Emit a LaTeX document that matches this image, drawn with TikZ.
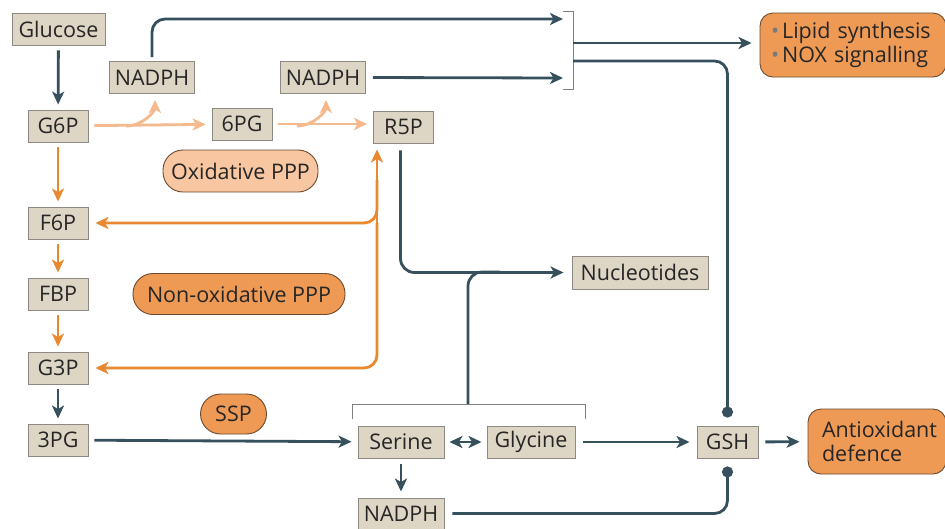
\documentclass[tikz,border=0pt]{standalone}
\usepackage{fontspec}
\setmainfont{Open Sans}
\usetikzlibrary{arrows.meta}
\definecolor{dk}{HTML}{37505E}
\definecolor{orn}{HTML}{E8892F}
\definecolor{lor}{HTML}{F4B98C}
\definecolor{boxfill}{HTML}{DDD6C4}
\definecolor{boxline}{HTML}{8C8A82}
\definecolor{pillfill}{HTML}{EE9A55}
\definecolor{pilllight}{HTML}{F8C6A0}
\definecolor{pillline}{HTML}{6B4A30}
\definecolor{txt}{HTML}{262626}
\definecolor{brk}{HTML}{808080}
\definecolor{bul}{HTML}{7A7A7A}
\tikzset{
  box/.style={draw=boxline, fill=boxfill, line width=0.9pt, minimum height=32pt, inner sep=0pt, text=txt},
  pill/.style={draw=pillline, fill=pillfill, line width=0.9pt, rounded corners=20pt, inner sep=0pt, text=txt},
  rbox/.style={draw=pillline, fill=pillfill, line width=0.9pt, rounded corners=13pt, inner sep=0pt, text=txt, align=left},
  tip/.style={-{Stealth[length=13pt,width=12pt,inset=3.5pt]}},
  dline/.style={draw=dk, line width=2.8pt},
  oline/.style={draw=orn, line width=2.8pt},
  lline/.style={draw=lor, line width=2.8pt},
  bline/.style={draw=brk, line width=1pt},
  dotend/.style={-{Circle[length=11pt,width=11pt]}},
}
\begin{document}
\begin{tikzpicture}[x=1pt,y=-1pt,font=\fontsize{21.5}{24}\selectfont]
\useasboundingbox (0,0) rectangle (945,528);
\fill[white] (0,0) rectangle (945,528);
% nodes
\node[box, minimum width=93pt] (glu) at (58.5,29) {Glucose};
\node[box, minimum width=60pt] (g6p) at (58,126) {G6P};
\node[box, minimum width=85pt] (nad1) at (152,77.5) {NADPH};
\node[box, minimum width=60pt] (pg6) at (242,124) {6PG};
\node[box, minimum width=85pt] (nad2) at (323,77.5) {NADPH};
\node[box, minimum width=60pt] (r5p) at (403.5,127) {R5P};
\node[pill, fill=pilllight, minimum width=155pt, minimum height=42pt] (oxp) at (240.5,171) {Oxidative PPP};
\node[box, minimum width=60pt] (f6p) at (58,223) {F6P};
\node[box, minimum width=60pt] (fbp) at (58,294) {FBP};
\node[pill, minimum width=212pt, minimum height=41pt] (nox) at (239,294) {Non-oxidative PPP};
\node[box, minimum width=60pt] (g3p) at (58,368) {G3P};
\node[pill, minimum width=66pt, minimum height=40pt] (ssp) at (233.5,414) {SSP};
\node[box, minimum width=60pt] (pg3) at (58,440) {3PG};
\node[box, minimum width=86pt] (ser) at (401,442) {Serine};
\node[box, minimum width=88pt] (gly) at (531,442) {Glycine};
\node[box, minimum width=61pt] (gsh) at (727.5,442) {GSH};
\node[box, minimum width=86pt, minimum height=31pt] (nad3) at (401,513.5) {NADPH};
\node[box, minimum width=136pt, minimum height=33pt] (nuc) at (640,272.5) {Nucleotides};
\node[rbox, minimum width=186pt, minimum height=64pt, text width=164pt] (lip) at (853,45)
  {{\color{bul}\textbullet}\kern3pt Lipid synthesis\\{\color{bul}\textbullet}\kern3pt NOX signalling};
\node[rbox, minimum width=138pt, minimum height=65pt, text width=110pt] (aox) at (877,441.5)
  {Antioxidant\\defence};
% coordinates
\coordinate (b1) at (563,19);
\coordinate (b2) at (563,78);
\coordinate (bo1) at (573,43);
\coordinate (bo2) at (573,61);
\coordinate (oj) at (377,223);
\coordinate (otop) at (377,180);
\coordinate (sgb) at (468,404);
\coordinate (br1) at (126,126);
\coordinate (br2) at (297,126);
% brackets
\draw[bline] (563,11) -- (573,11) -- (573,89) -- (563,89);
\draw[bline] (352,419) -- (352,404) -- (585,404) -- (585,419);
% dark connectors
\draw[dline, tip, shorten <=5pt, shorten >=5pt] (glu) -- (g6p);
\draw[dline, tip, rounded corners=13pt, shorten <=4pt] (nad1.north) |- (b1);
\draw[dline, tip, shorten <=7pt] (nad2.east) -- (b2);
\draw[dline, tip, shorten >=8pt] (bo1) -- (lip.west |- bo1);
\draw[dline, dotend, rounded corners=13pt, shorten >=8pt] (bo2) -| (gsh.north);
\draw[dline, tip, rounded corners=14pt, shorten <=7pt, shorten >=8pt] ([xshift=-3pt]r5p.south) |- (nuc.west);
\draw[dline, rounded corners=14pt] (sgb) -- (468,272) -- (500,272);
\draw[dline, tip, shorten <=5pt, shorten >=5pt] (g3p) -- (pg3);
\draw[dline, tip, shorten <=6pt, shorten >=6pt] (pg3) -- (ser);
\draw[dline, {Stealth[length=13pt,width=12pt,inset=3.5pt]}-{Stealth[length=13pt,width=12pt,inset=3.5pt]}, shorten <=5pt, shorten >=5pt] (ser) -- (gly);
\draw[dline, tip, shorten <=8pt, shorten >=7pt] (gly) -- (gsh);
\draw[dline, tip, shorten <=7pt, shorten >=8pt] (gsh) -- (aox);
\draw[dline, tip, shorten <=6pt, shorten >=6pt] (ser) -- (nad3);
\draw[dline, dotend, rounded corners=13pt, shorten <=8pt, shorten >=8pt] (nad3.east) -| (gsh.south);
% light orange (oxidative)
\draw[lline, tip, shorten <=6pt, shorten >=6pt] (g6p) -- (pg6);
\draw[lline, tip, shorten >=6pt] (br1) to[out=0,in=-90] ([xshift=3pt]nad1.south);
\draw[lline, tip, shorten <=6pt, shorten >=6pt] (pg6.east) -- (r5p.west |- pg6.east);
\draw[lline, tip, shorten >=6pt] (br2) to[out=0,in=-90] ([xshift=3pt]nad2.south);
% orange (glycolysis / non-oxidative)
\draw[oline, tip, shorten <=5pt, shorten >=5pt] (g6p) -- (f6p);
\draw[oline, tip, shorten <=5pt, shorten >=5pt] (f6p) -- (fbp);
\draw[oline, tip, shorten <=5pt, shorten >=5pt] (fbp) -- (g3p);
\draw[oline, tip, shorten >=6pt] (oj) -- (oj |- r5p.south);
\draw[oline, tip, rounded corners=13pt, shorten >=7pt] (otop) -- (oj) -- (f6p.east |- oj);
\draw[oline, tip, rounded corners=13pt, shorten >=7pt] (oj) -- (oj |- g3p.east) -- (g3p.east);
\end{tikzpicture}
\end{document}
